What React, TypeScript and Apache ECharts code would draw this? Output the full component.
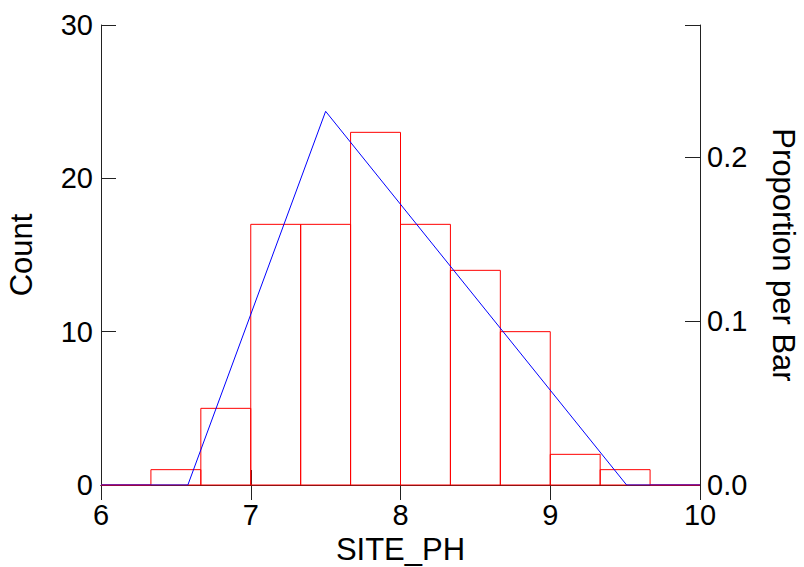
import React, { useEffect, useRef } from "react";
import * as echarts from "echarts";

const binEdges = [6, 6.3333, 6.6667, 7, 7.3333, 7.6667, 8, 8.3333, 8.6667, 9, 9.3333, 9.6667, 10];
const binCounts = [0, 1, 5, 17, 17, 23, 17, 14, 10, 2, 1, 0];
const curveX = [6, 6.58, 7.5, 9.51, 10];
const curveY = [0, 0, 24.37, 0, 0];
const xTicks = [6, 7, 8, 9, 10];
const countTicks = [0, 10, 20, 30];
const totalN = binCounts.reduce((a, b) => a + b, 0);

const FONT = "'Liberation Sans', Arial, sans-serif";

export default function App() {
  const ref = useRef<HTMLDivElement>(null);
  useEffect(() => {
    if (!ref.current) return;
    const chart = echarts.init(ref.current, null, { renderer: "svg" });
    const bins = binCounts.map((c, i) => [binEdges[i], binEdges[i + 1], c]);
    const axisLine = { show: true, lineStyle: { color: "#222", width: 1 } };
    const tick = { show: true, inside: true, length: 15, lineStyle: { color: "#222", width: 1 } };
    const label = { color: "#000", fontSize: 29, fontFamily: FONT };
    const nameStyle = { color: "#000", fontSize: 31, fontFamily: FONT };
    chart.setOption({
      animation: false,
      backgroundColor: "#fff",
      grid: {
        left: 101, right: 104, top: 25, bottom: 82, show: false,
        containLabel: false, outerBoundsMode: "none",
      },
      xAxis: [
        {
          type: "value", min: xTicks[0], max: xTicks[xTicks.length - 1], interval: 1,
          position: "bottom", axisLine, axisTick: tick, splitLine: { show: false },
          axisLabel: { ...label, margin: 15 },
          name: "SITE_PH", nameLocation: "middle", nameGap: 49,
          nameTextStyle: { ...nameStyle, lineHeight: 31 },
        },
        {
          type: "value", min: xTicks[0], max: xTicks[xTicks.length - 1], interval: 1,
          position: "top", axisLine, axisTick: tick, splitLine: { show: false },
          axisLabel: { show: false },
        },
      ],
      yAxis: [
        {
          type: "value", min: countTicks[0], max: countTicks[countTicks.length - 1], interval: 10,
          position: "left", axisLine, axisTick: tick, splitLine: { show: false },
          axisLabel: { ...label, margin: 8 },
          name: "Count", nameLocation: "middle", nameGap: 64,
          nameTextStyle: { ...nameStyle },
        },
        {
          type: "value", min: 0, max: countTicks[countTicks.length - 1] / totalN, interval: 0.1,
          position: "right", axisLine, axisTick: tick, splitLine: { show: false },
          axisLabel: {
            ...label, margin: 7,
            formatter: (v: number) => {
              const r = Math.round(v * 10) / 10;
              return Math.abs(r - v) < 1e-6 ? r.toFixed(1) : "";
            },
          },
          name: "Proportion per Bar", nameLocation: "middle", nameGap: 68, nameRotate: -90,
          nameTextStyle: { ...nameStyle },
        },
      ],
      series: [
        {
          type: "custom",
          xAxisIndex: 0, yAxisIndex: 0,
          data: bins,
          encode: { x: [0, 1], y: 2 },
          renderItem: (params: any, api: any) => {
            const p0 = api.coord([api.value(0), api.value(2)]);
            const p1 = api.coord([api.value(1), 0]);
            return {
              type: "rect",
              shape: { x: p0[0], y: p0[1], width: p1[0] - p0[0], height: p1[1] - p0[1] },
              style: { fill: "transparent", stroke: "#ff0000", lineWidth: 1 },
            };
          },
          z: 5,
        },
        {
          type: "line",
          xAxisIndex: 0, yAxisIndex: 0,
          data: curveX.map((x, i) => [x, curveY[i]]),
          showSymbol: false, symbol: "none",
          lineStyle: { color: "#0000ff", width: 1 },
          z: 6,
        },
      ],
    });
    return () => chart.dispose();
  }, []);
  return (
    <div
      ref={ref}
      style={{ position: "fixed", left: 0, top: 0, width: 804, height: 567, background: "#fff" }}
    />
  );
}
